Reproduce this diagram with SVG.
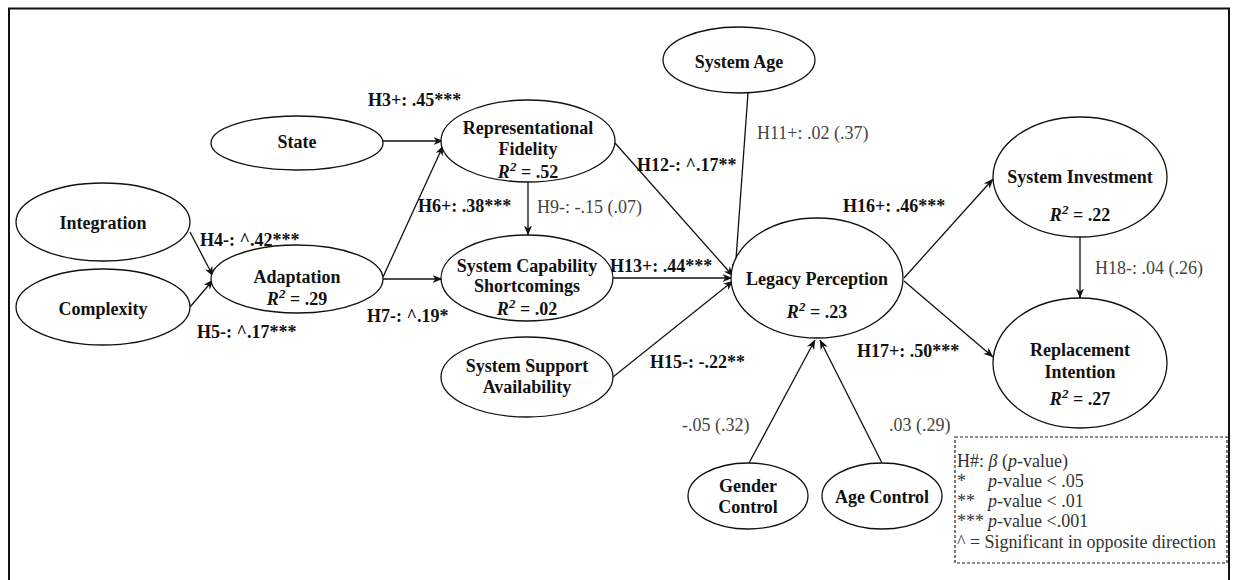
<svg xmlns="http://www.w3.org/2000/svg" width="1233" height="580" viewBox="0 0 1233 580">
  <style>
    text { font-family: "Liberation Serif", "Times New Roman", serif; font-size: 18px; }
    .node ellipse { fill: #fff; stroke: #111; stroke-width: 1.3; }
    .node text { font-weight: bold; fill: #111; text-anchor: middle; }
    .edge { stroke: #111; stroke-width: 1.3; fill: none; }
    .arr { marker-end: url(#head); }
    .lb { font-weight: bold; fill: #111; }
    .lr { fill: #444; }
    .legend text { fill: #333; }
    .it { font-style: italic; }
    .sup { font-style: italic; font-size: 13px; }
  </style>
  <defs>
    <marker id="head" viewBox="0 0 10 8" refX="9.5" refY="4" markerWidth="10" markerHeight="8" markerUnits="userSpaceOnUse" orient="auto">
      <path d="M0,0 L10,4 L0,8 L3,4 Z" fill="#111"/>
    </marker>
  </defs>

  <rect width="1233" height="580" fill="#fff"/>
  <!-- outer frame, open at the bottom edge -->
  <path d="M9,590 V8.5 H1229 V590" fill="none" stroke="#111" stroke-width="2"/>

  <!-- connectors -->
  <g id="connectors">
    <line class="edge arr" x1="383" y1="141" x2="443" y2="141"/>
    <line class="edge arr" x1="383" y1="277" x2="443" y2="146"/>
    <line class="edge arr" x1="383" y1="279" x2="442" y2="279"/>
    <line class="edge arr" x1="190" y1="232" x2="213" y2="276"/>
    <line class="edge arr" x1="190" y1="307" x2="213" y2="280"/>
    <line class="edge arr" x1="528" y1="182" x2="528" y2="235"/>
    <line class="edge arr" x1="615" y1="143" x2="733" y2="276"/>
    <line class="edge arr" x1="748" y1="93" x2="735" y2="273"/>
    <line class="edge arr" x1="613" y1="278" x2="732" y2="278"/>
    <line class="edge arr" x1="613" y1="377" x2="733" y2="281"/>
    <line class="edge arr" x1="904" y1="278" x2="993" y2="179"/>
    <line class="edge arr" x1="904" y1="281" x2="993" y2="357"/>
    <line class="edge arr" x1="1080" y1="237" x2="1080" y2="298"/>
    <line class="edge arr" x1="749" y1="463" x2="815" y2="340"/>
    <line class="edge arr" x1="882" y1="463" x2="820" y2="340"/>
  </g>

  <!-- path coefficients -->
  <g id="edge-labels">
    <text class="lb" x="368" y="106">H3+: .45***</text>
    <text class="lb" x="200" y="246">H4-: ^.42***</text>
    <text class="lb" x="197" y="338">H5-: ^.17***</text>
    <text class="lb" x="418" y="212">H6+: .38***</text>
    <text class="lb" x="367" y="322">H7-: ^.19*</text>
    <text class="lr" x="537" y="213">H9-: -.15 (.07)</text>
    <text class="lr" x="757" y="139">H11+: .02 (.37)</text>
    <text class="lb" x="637" y="171">H12-: ^.17**</text>
    <text class="lb" x="610" y="272">H13+: .44***</text>
    <text class="lb" x="650" y="368">H15-: -.22**</text>
    <text class="lb" x="843" y="212">H16+: .46***</text>
    <text class="lb" x="857" y="357">H17+: .50***</text>
    <text class="lr" x="1095" y="274">H18-: .04 (.26)</text>
    <text class="lr" x="682" y="431">-.05 (.32)</text>
    <text class="lr" x="889" y="431">.03 (.29)</text>
  </g>

  <!-- constructs -->
  <g id="state" class="node">
    <ellipse cx="297" cy="143" rx="86" ry="27"/>
    <text x="297" y="148">State</text>
  </g>
  <g id="integration" class="node">
    <ellipse cx="103" cy="222" rx="87" ry="39"/>
    <text x="103" y="229">Integration</text>
  </g>
  <g id="complexity" class="node">
    <ellipse cx="103" cy="307" rx="87" ry="38"/>
    <text x="103" y="315">Complexity</text>
  </g>
  <g id="adaptation" class="node">
    <ellipse cx="297" cy="279" rx="86" ry="34"/>
    <text x="297" y="283">Adaptation</text>
    <text x="297" y="305"><tspan class="it">R</tspan><tspan class="sup" dy="-7">2</tspan><tspan dy="7"> = .29</tspan></text>
  </g>
  <g id="representational-fidelity" class="node">
    <ellipse cx="528" cy="141" rx="87" ry="41"/>
    <text x="528" y="134">Representational</text>
    <text x="528" y="155">Fidelity</text>
    <text x="528" y="178"><tspan class="it">R</tspan><tspan class="sup" dy="-7">2</tspan><tspan dy="7"> = .52</tspan></text>
  </g>
  <g id="system-capability-shortcomings" class="node">
    <ellipse cx="527" cy="278" rx="86" ry="43"/>
    <text x="527" y="272">System Capability</text>
    <text x="527" y="292">Shortcomings</text>
    <text x="527" y="315"><tspan class="it">R</tspan><tspan class="sup" dy="-7">2</tspan><tspan dy="7"> = .02</tspan></text>
  </g>
  <g id="system-support-availability" class="node">
    <ellipse cx="527" cy="377" rx="86" ry="40"/>
    <text x="527" y="372">System Support</text>
    <text x="527" y="393">Availability</text>
  </g>
  <g id="system-age" class="node">
    <ellipse cx="739" cy="60" rx="76" ry="33"/>
    <text x="739" y="68">System Age</text>
  </g>
  <g id="legacy-perception" class="node">
    <ellipse cx="817" cy="278" rx="86" ry="60"/>
    <text x="817" y="285">Legacy Perception</text>
    <text x="817" y="318"><tspan class="it">R</tspan><tspan class="sup" dy="-7">2</tspan><tspan dy="7"> = .23</tspan></text>
  </g>
  <g id="system-investment" class="node">
    <ellipse cx="1080" cy="177" rx="87" ry="60"/>
    <text x="1080" y="183">System Investment</text>
    <text x="1080" y="221"><tspan class="it">R</tspan><tspan class="sup" dy="-7">2</tspan><tspan dy="7"> = .22</tspan></text>
  </g>
  <g id="replacement-intention" class="node">
    <ellipse cx="1080" cy="363" rx="87" ry="65"/>
    <text x="1080" y="356">Replacement</text>
    <text x="1080" y="378">Intention</text>
    <text x="1080" y="405"><tspan class="it">R</tspan><tspan class="sup" dy="-7">2</tspan><tspan dy="7"> = .27</tspan></text>
  </g>
  <g id="gender-control" class="node">
    <ellipse cx="748" cy="496" rx="60" ry="33"/>
    <text x="748" y="492">Gender</text>
    <text x="748" y="513">Control</text>
  </g>
  <g id="age-control" class="node">
    <ellipse cx="882" cy="496" rx="60" ry="33"/>
    <text x="882" y="503">Age Control</text>
  </g>

  <!-- key -->
  <g id="legend" class="legend">
    <rect x="955" y="437" width="272" height="126" fill="#fff" stroke="#222" stroke-width="1.2" stroke-dasharray="3 2"/>
    <text x="957" y="467">H#: <tspan class="it">β</tspan> (<tspan class="it">p</tspan>-value)</text>
    <text x="957" y="487">*</text>
    <text x="988" y="487"><tspan class="it">p</tspan>-value &lt; .05</text>
    <text x="957" y="507">**</text>
    <text x="988" y="507"><tspan class="it">p</tspan>-value &lt; .01</text>
    <text x="957" y="527">***</text>
    <text x="988" y="527"><tspan class="it">p</tspan>-value &lt;.001</text>
    <text x="957" y="548">^ = Significant in opposite direction</text>
  </g>
</svg>
